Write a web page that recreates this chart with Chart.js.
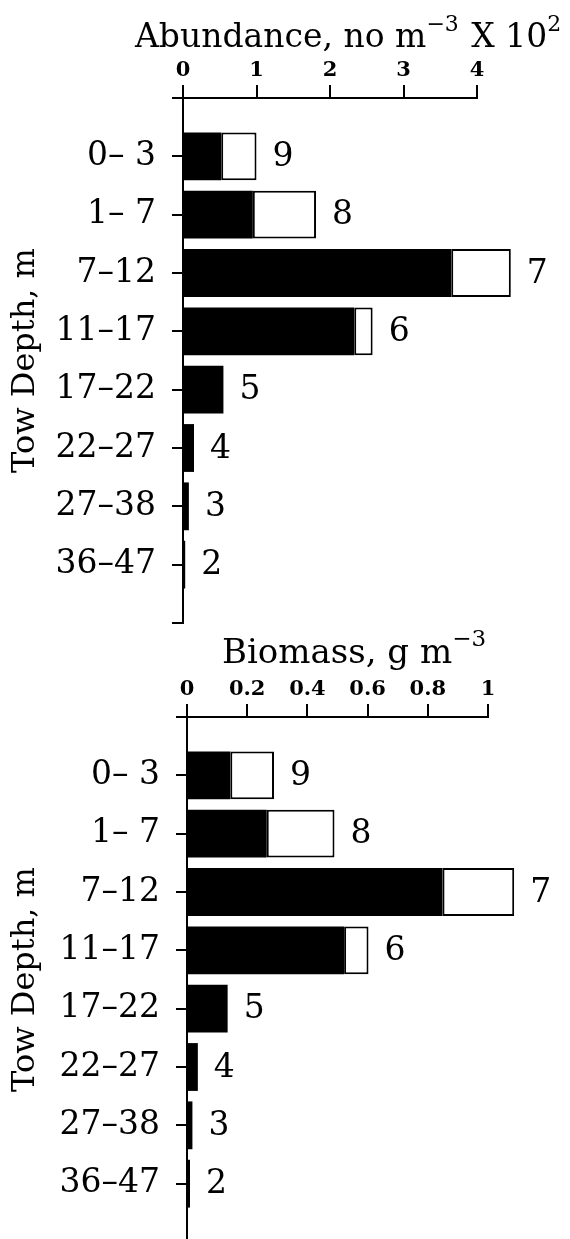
<!DOCTYPE html>
<html>
<head>
<meta charset="utf-8">
<script src="https://cdn.jsdelivr.net/npm/chart.js@4.4.1/dist/chart.umd.min.js"></script>
<style>
  html, body { margin: 0; padding: 0; background: #fff; overflow: hidden; }
  body { position: relative; width: 570px; height: 1239px; }
  canvas { display: block; position: absolute; left: 0; }
  #grafico-abundancia { top: 0; }
  #grafico-biomassa { top: 610px; }
</style>
</head>
<body>
<canvas id="grafico-abundancia" width="570" height="640"></canvas>
<canvas id="grafico-biomassa" width="570" height="640"></canvas>
<script>
// Tow depth classes and the station number written after each bar
const depthLabels = ['0– 3', '1– 7', '7–12', '11–17', '17–22', '22–27', '27–38', '36–47'];
const stationLabels = ['9', '8', '7', '6', '5', '4', '3', '2'];

// Abundance (no m-3 x 10^2): black part and white part of each bar
const abundanceDark = [0.52, 0.95, 3.65, 2.33, 0.55, 0.15, 0.08, 0.03];
const abundanceLight = [0.48, 0.86, 0.81, 0.25, 0, 0, 0, 0];
const abundanceTicks = [0, 1, 2, 3, 4];

// Biomass (g m-3)
const biomassDark = [0.144, 0.265, 0.849, 0.522, 0.135, 0.036, 0.018, 0.01];
const biomassLight = [0.145, 0.225, 0.238, 0.081, 0, 0, 0, 0];
const biomassTicks = [0, 0.2, 0.4, 0.6, 0.8, 1];

Chart.defaults.font.family = 'DejaVu Serif';
Chart.defaults.color = '#000';

// empty slot above and below the eight depth classes
const pad = arr => [null, ...arr, null];

// Station numbers to the right of each bar
const rotulosEstacao = {
    id: 'rotulosEstacao',
    afterDatasetsDraw(chart, args, opts) {
        const ctx = chart.ctx;
        const meta = chart.getDatasetMeta(1);
        ctx.save();
        ctx.font = opts.font;
        ctx.fillStyle = '#000';
        ctx.textBaseline = 'middle';
        ctx.textAlign = 'left';
        meta.data.forEach((bar, i) => {
            const label = opts.labels[i];
            if (!label) return;
            ctx.fillText(label, bar.x + opts.gap, bar.y + 1);
        });
        ctx.restore();
    }
};

// Axis title with superscripts
const tituloSup = {
    id: 'tituloSup',
    afterDraw(chart, args, opts) {
        const ctx = chart.ctx;
        let x = opts.x;
        ctx.save();
        ctx.fillStyle = '#000';
        ctx.textBaseline = 'alphabetic';
        ctx.textAlign = 'left';
        opts.parts.forEach(([text, sup]) => {
            const size = sup ? Math.round(opts.size * 0.68) : opts.size;
            ctx.font = size + 'px "DejaVu Serif"';
            const y = sup ? opts.y - opts.size * 0.5 : opts.y;
            ctx.fillText(text, x, y);
            x += ctx.measureText(text).width + (sup ? 2 : 0);
        });
        ctx.restore();
    }
};

function desenharPainel(id, dark, light, ticks, cfg) {
    const ctx = document.getElementById(id);
    return new Chart(ctx.getContext('2d'), {
        type: 'bar',
        data: {
            labels: ['', ...depthLabels, ''],
            datasets: [
                {
                    data: pad(dark),
                    backgroundColor: '#000',
                    borderColor: '#000',
                    borderWidth: 0,
                    barPercentage: 0.82,
                    categoryPercentage: 1,
                    clip: false
                },
                {
                    data: pad(light),
                    backgroundColor: '#fff',
                    borderColor: '#000',
                    borderWidth: 2,
                    borderSkipped: false,
                    barPercentage: 0.82,
                    categoryPercentage: 1,
                    clip: false
                }
            ]
        },
        options: {
            indexAxis: 'y',
            responsive: false,
            animation: false,
            layout: { padding: { top: 0, left: 0, right: cfg.right, bottom: cfg.bottom } },
            scales: {
                x: {
                    position: 'top',
                    stacked: true,
                    min: 0,
                    max: ticks[ticks.length - 1],
                    afterBuildTicks: scale => { scale.ticks = ticks.map(v => ({ value: v })); },
                    afterFit: scale => {
                        scale.height = cfg.top;
                        scale.paddingLeft = 0;
                        scale.paddingRight = 0;
                    },
                    ticks: {
                        font: { size: 21, weight: 'bold' },
                        padding: 2,
                        maxRotation: 0,
                        callback: v => String(+v.toFixed(1))
                    },
                    grid: {
                        drawOnChartArea: false,
                        drawTicks: true,
                        tickLength: 13,
                        color: '#000',
                        lineWidth: 2
                    },
                    border: { display: true, color: '#000', width: 2 }
                },
                y: {
                    stacked: true,
                    offset: false,
                    afterFit: scale => {
                        scale.width = cfg.left;
                        scale.paddingTop = 0;
                        scale.paddingBottom = 0;
                    },
                    ticks: {
                        font: { size: 33 },
                        padding: 16,
                        autoSkip: false
                    },
                    grid: {
                        offset: false,
                        drawOnChartArea: false,
                        drawTicks: true,
                        tickLength: 11,
                        color: '#000',
                        lineWidth: 2
                    },
                    border: { display: true, color: '#000', width: 2 },
                    title: {
                        display: true,
                        text: 'Tow Depth, m',
                        font: { size: 32 },
                        padding: { top: 6, bottom: 0 }
                    }
                }
            },
            plugins: {
                legend: { display: false },
                tooltip: { enabled: false },
                rotulosEstacao: { labels: pad(stationLabels), font: '33px "DejaVu Serif"', gap: 16 },
                tituloSup: cfg.title
            }
        },
        plugins: [rotulosEstacao, tituloSup]
    });
}

desenharPainel('grafico-abundancia', abundanceDark, abundanceLight, abundanceTicks, {
    top: 98, left: 183, right: 93, bottom: 17,
    title: { x: 135, y: 47, size: 33, parts: [['Abundance, no m', false], ['−3', true], [' X 10', false], ['2', true]] }
});

desenharPainel('grafico-biomassa', biomassDark, biomassLight, biomassTicks, {
    top: 107, left: 187, right: 82, bottom: 8,
    title: { x: 222, y: 53, size: 34, parts: [['Biomass, g m', false], ['−3', true]] }
});
</script>
</body>
</html>
